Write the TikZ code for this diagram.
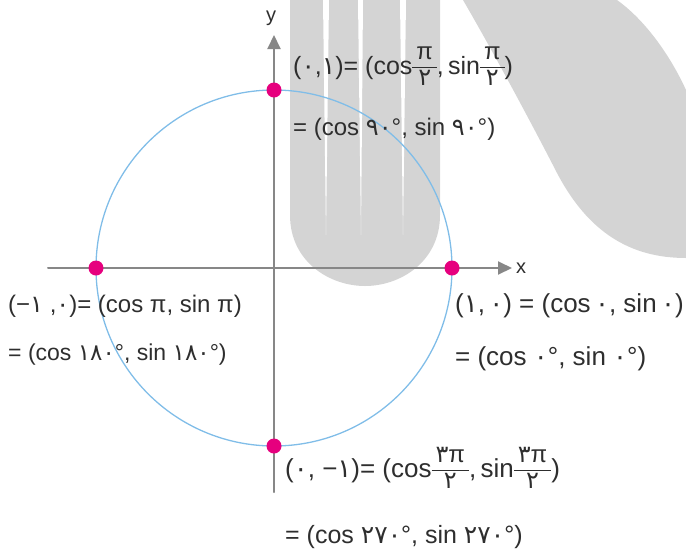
\documentclass[tikz,border=0pt]{standalone}
\usepackage{fontspec}
\setmainfont{Liberation Sans}
\newfontfamily\fa[Script=Arabic,Scale=1.0]{DejaVu Sans}
\usepackage{xcolor}
\usepackage{tikz}
\usetikzlibrary{arrows.meta}
\definecolor{wmgray}{HTML}{D4D4D4}
\definecolor{axgray}{HTML}{878787}
\definecolor{circblue}{HTML}{80BDE8}
\definecolor{dotpink}{HTML}{E6007E}
\definecolor{txt}{HTML}{2E2E2E}
\newcommand{\fr}[2]{\raisebox{-11pt}{\fontsize{24}{24}\selectfont\setlength{\arrayrulewidth}{1pt}%
  \begin{tabular}[b]{@{\hspace{4pt}}c@{\hspace{4pt}}}#1\\\hline\rule{0pt}{17.5pt}#2\end{tabular}}}
\tikzset{
  dotv/.style={circle, fill=dotpink, minimum size=15pt, inner sep=0pt},
  axis/.style={draw=axgray, line width=2pt, -{Triangle[length=14pt,width=13pt]}},
  circ/.style={draw=circblue, line width=1.3pt},
  eqn/.style={anchor=base west, inner sep=0pt, text=txt, font=\fontsize{24}{28}\selectfont},
  axlbl/.style={inner sep=0pt, text=txt, font=\fontsize{20}{22}\selectfont},
  every picture/.style={line cap=round, line join=round}
}

\begin{document}
\begin{tikzpicture}[x=1pt,y=-1pt]
  \useasboundingbox (0,0) rectangle (686,550);
  \fill[wmgray] (290,0) -- (290,215) .. controls (290,262) and (330,286) .. (365,286)
    .. controls (400,286) and (440,262) .. (440,215) -- (440,0) -- cycle;
  \fill[white] (323,0) -- (329,0) -- (326,235) -- cycle;
  \fill[white] (358,0) -- (363,0) -- (361,235) -- cycle;
  \fill[white] (400,0) -- (406,0) -- (403,235) -- cycle;
  \fill[wmgray] (463,0) -- (617,0) .. controls (645,20) and (670,55) .. (686,90)
    -- (686,258) .. controls (630,258) and (588,232) .. (557,173)
    .. controls (535,130) and (495,55) .. (463,0) -- cycle;

  \coordinate (O) at (274,268);
  \coordinate (xs) at (48,268);
  \coordinate (xe) at (512,268);
  \coordinate (ys) at (274,492);
  \coordinate (ye) at (274,35);
  \draw[circ] (O) circle (178);
  \draw[axis] (xs) -- (xe);
  \draw[axis] (ys) -- (ye);
  \node[axlbl, anchor=west] (xl) at (516,268) {x};
  \node[axlbl] (yl) at (271,18) {y};

  \node[dotv] (pr) at (452,268) {};
  \node[dotv] (pt) at (274,90) {};
  \node[dotv] (pl) at (96,268) {};
  \node[dotv] (pb) at (274,446) {};

  \node[eqn, font=\fontsize{25}{29}\selectfont] (t1) at (293,74) {({\fa ۰},{\fa ۱})= (cos\fr{π}{\fa ۲},\,sin\fr{π}{\fa ۲})};
  \node[eqn] (t2) at (293,135) {= (cos {\fa ۹۰}°, sin {\fa ۹۰}°)};
  \node[eqn] (l1) at (8,312) {(−{\fa ۱} ,{\fa ۰})= (cos π, sin π)};
  \node[eqn, font=\fontsize{23}{27}\selectfont] (l2) at (8,360) {= (cos {\fa ۱۸۰}°, sin {\fa ۱۸۰}°)};
  \node[eqn, font=\fontsize{26}{30}\selectfont] (r1) at (455,312) {({\fa ۱},\,{\fa ۰}) = (cos\,{\fa ۰}, sin\,{\fa ۰})};
  \node[eqn, font=\fontsize{26}{30}\selectfont] (r2) at (455,365) {= (cos {\fa ۰}°, sin {\fa ۰}°)};
  \node[eqn, font=\fontsize{26}{30}\selectfont] (b1) at (285,477) {({\fa ۰}, −{\fa ۱})= (cos\fr{{\fa ۳}π}{\fa ۲},\,sin\fr{{\fa ۳}π}{\fa ۲})};
  \node[eqn, font=\fontsize{25}{29}\selectfont] (b2) at (285,543) {= (cos {\fa ۲۷۰}°, sin {\fa ۲۷۰}°)};
\end{tikzpicture}
\end{document}
